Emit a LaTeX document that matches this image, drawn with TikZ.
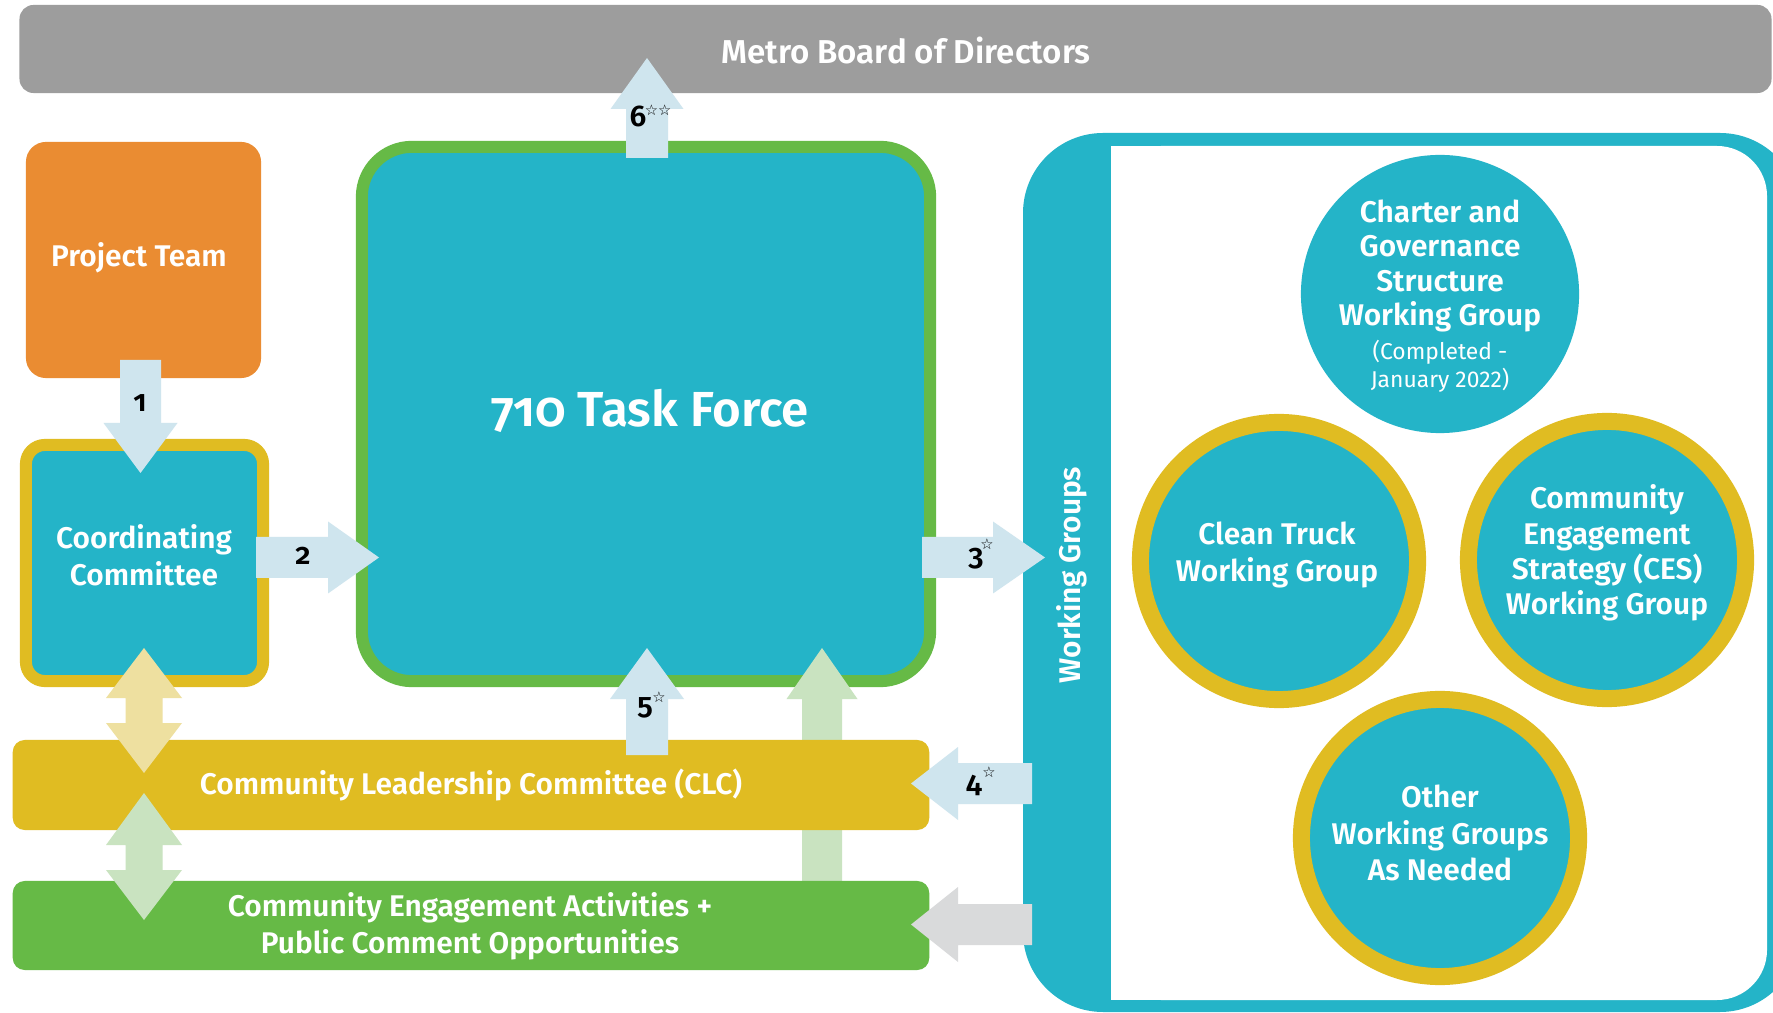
\documentclass[tikz,border=0pt]{standalone}
\usepackage{fontspec}
\IfFontExistsTF{Fira Sans SemiBold}{\setmainfont{Fira Sans}[BoldFont={Fira Sans SemiBold}]}{\setmainfont{Fira Sans}}
\newfontfamily\symf{DejaVu Sans}
\definecolor{tealc}{HTML}{24B4C8}
\definecolor{grnc}{HTML}{66BA46}
\definecolor{yelc}{HTML}{E0BC22}
\definecolor{orac}{HTML}{EA8C32}
\definecolor{grayb}{HTML}{9D9D9D}
\definecolor{arrblue}{HTML}{CFE5EE}
\definecolor{paleyel}{HTML}{EEE0A0}
\definecolor{palegrn}{HTML}{C9E3C0}
\definecolor{arrgray}{HTML}{D9DADB}
\newcommand\blkv[7]{\fill[#1] ({#2-#6},#3) -- ({#2-#6},#4) -- ({#2-#7},#4) -- (#2,#5) -- ({#2+#7},#4) -- ({#2+#6},#4) -- ({#2+#6},#3) -- cycle;}
\newcommand\blkh[7]{\fill[#1] (#3,{#2-#6}) -- (#4,{#2-#6}) -- (#4,{#2-#7}) -- (#5,#2) -- (#4,{#2+#7}) -- (#4,{#2+#6}) -- (#3,{#2+#6}) -- cycle;}
\newcommand\blkdv[8]{\fill[#1] (#2,#3) -- ({#2+#8},#4) -- ({#2+#7},#4) -- ({#2+#7},#5) -- ({#2+#8},#5) -- (#2,#6) -- ({#2-#8},#5) -- ({#2-#7},#5) -- ({#2-#7},#4) -- ({#2-#8},#4) -- cycle;}
\begin{document}
\begin{tikzpicture}[x=0.01cm,y=-0.01cm,
  every node/.style={inner sep=0pt, outer sep=0pt},
  wtext/.style={text=white, align=center, font=\bfseries\fontsize{8.5}{10.4}\selectfont},
  num/.style={text=black, anchor=base, font=\bfseries\fontsize{8.5}{10}\selectfont\addfontfeature{Numbers=OldStyle}},
  star/.style={text=black, font=\symf\bfseries\fontsize{4.2}{5}\selectfont},
  ring/.style={circle, fill=tealc, draw=yelc, line width=0.17cm, minimum size=2.77cm}]
\useasboundingbox (0,0) rectangle (1773,1013);
\fill[white] (0,0) rectangle (1773,1013);
% board
\node[fill=grayb, rounded corners=0.14cm, minimum width=17.51cm, minimum height=0.88cm] (board) at (895.5,49) {};
\node[wtext, font=\bfseries\fontsize{9.4}{11}\selectfont] (boardtxt) at (906,51) {Metro Board of Directors};
% left boxes
\node[fill=orac, rounded corners=0.2cm, minimum width=2.35cm, minimum height=2.36cm] (pt) at (143.5,260) {};
\node[wtext] (pttxt) at (139,258) {Project Team};
\node[fill=tealc, draw=yelc, line width=0.12cm, rounded corners=0.19cm, minimum width=2.37cm, minimum height=2.36cm] (cc) at (144.5,563) {};
\node[wtext, font=\bfseries\fontsize{8.5}{10.6}\selectfont] (cctxt) at (144,555) {Coordinating\\Committee};
\node[fill=tealc, draw=grnc, line width=0.12cm, rounded corners=0.5cm, minimum width=5.68cm, minimum height=5.34cm] (tf) at (646,414) {};
\node[text=white, anchor=base, font=\bfseries\fontsize{14}{17}\selectfont\addfontfeature{Numbers=OldStyle}] (tftxt) at (650,427) {710 Task Force};
% working group frame
\fill[tealc, rounded corners=0.8cm] (1023,133) rectangle (1800,1012);
\fill[white, rounded corners=0.5cm] (1111,146) rectangle (1767,1000);
\fill[white] (1111,146) rectangle (1300,1000);
\node[wtext, rotate=90] (wgl) at (1072,575) {Working Groups};
% circles
\node[circle, fill=tealc, minimum size=2.78cm] (cg) at (1440,294) {};
\node[wtext, font=\bfseries\fontsize{8.5}{9.8}\selectfont] (cgtxt) at (1440,266) {Charter and\\Governance\\Structure\\Working Group};
\node[wtext, font=\fontsize{6.5}{8}\selectfont] (cgnote) at (1440,366) {(Completed -\\January 2022)};
\node[ring] (ct) at (1279,561) {};
\node[wtext] (cttxt) at (1277,555) {Clean Truck\\Working Group};
\node[ring] (ces) at (1607,560) {};
\node[wtext, font=\bfseries\fontsize{8.5}{10}\selectfont] (cestxt) at (1607,553) {Community\\Engagement\\Strategy (CES)\\Working Group};
\node[ring] (oth) at (1440,838) {};
\node[wtext] (othtxt) at (1440,833) {Other\\Working Groups\\As Needed};
% arrow behind CLC bar
\blkv{palegrn}{822}{881}{699}{648}{20}{35.5}
% bars
\node[fill=yelc, rounded corners=0.12cm, minimum width=9.16cm, minimum height=0.9cm] (clc) at (471,785) {};
\node[fill=grnc, rounded corners=0.12cm, minimum width=9.16cm, minimum height=0.89cm] (cea) at (471,925.5) {};
% arrows
\blkv{arrblue}{647}{158}{109}{58}{21}{36.5}
\blkv{arrblue}{140.5}{360}{423}{473}{20.5}{37}
\blkh{arrblue}{557.5}{256}{328}{379}{20.5}{36}
\blkh{arrblue}{557.5}{922}{993}{1045}{20.5}{36}
\blkh{arrblue}{783.5}{1032}{958}{911}{20.5}{36.5}
\blkh{arrgray}{924.5}{1032}{958}{911}{20.5}{37.5}
\blkv{arrblue}{647}{755}{699}{648}{21}{37}
\blkdv{paleyel}{144}{648}{698}{723}{773}{18.5}{38}
\blkdv{palegrn}{144}{793}{845}{870}{920}{18.5}{38}
% bar texts
\node[wtext] (clctxt) at (471,785) {Community Leadership Committee (CLC)};
\node[wtext, font=\bfseries\fontsize{8.5}{10.5}\selectfont] (ceatxt) at (470,926) {Community Engagement Activities +\\Public Comment Opportunities};
% labels
\node[num] (n1) at (140,412) {1};
\node[num] (n2) at (303,565) {2};
\node[num] (n3) at (976,566) {3};
\node[star] (s3) at (987,544) {☆};
\node[num] (n4) at (974,792) {4};
\node[star] (s4) at (989,772) {☆};
\node[num] (n5) at (645,715) {5};
\node[star] (s5) at (659,697) {☆};
\node[num] (n6) at (638,127) {6};
\node[star] (s6) at (658,110) {☆☆};
\end{tikzpicture}
\end{document}
